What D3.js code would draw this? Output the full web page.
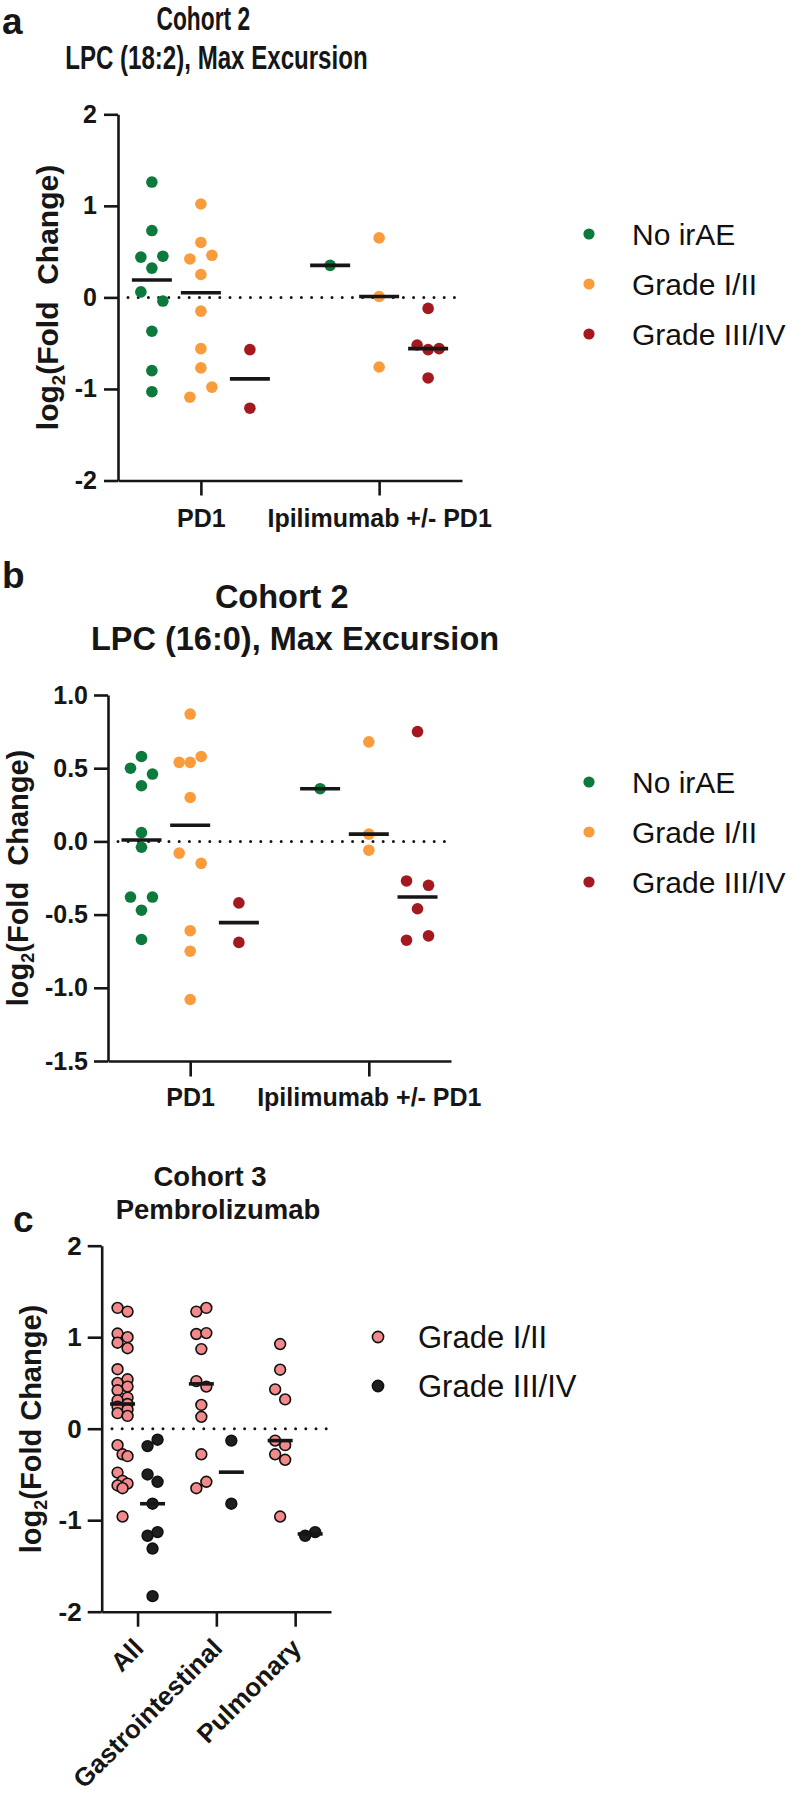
<!DOCTYPE html>
<html><head><meta charset="utf-8">
<script src="https://cdn.jsdelivr.net/npm/d3@7"></script>
<style>body{margin:0;background:#fff}</style>
</head><body>
<svg id="chart" width="793" height="1800"></svg>
<script>
// ---------------- DATA ----------------
const cohort2Groups = ["PD1", "Ipilimumab +/- PD1"];
const cohort2Series = ["No irAE", "Grade I/II", "Grade III/IV"];
const cohort2Colors = ["#0B7A3C", "#FA9C3C", "#A3191F"];

// Panel a: LPC (18:2)
const aTicks = [2, 1, 0, -1, -2];
const aNoIrAE_PD1  = [1.26, 0.73, 0.44, 0.45, 0.32, 0.06, -0.04, -0.37, -0.80, -1.03];
const aGrade12_PD1 = [1.02, 0.60, 0.42, 0.46, 0.25, -0.15, -0.56, -0.77, -1.09, -0.98];
const aGrade34_PD1 = [-0.57, -1.21];
const aNoIrAE_Ipi  = [0.35];
const aGrade12_Ipi = [0.65, 0.01, -0.76];
const aGrade34_Ipi = [-0.12, -0.52, -0.57, -0.56, -0.88];

// Panel b: LPC (16:0)
const bTicks = [1.0, 0.5, 0.0, -0.5, -1.0, -1.5];
const bNoIrAE_PD1  = [0.58, 0.50, 0.46, 0.38, 0.06, -0.04, -0.38, -0.38, -0.47, -0.67];
const bGrade12_PD1 = [0.87, 0.54, 0.54, 0.58, 0.30, -0.08, -0.15, -0.61, -0.75, -1.08];
const bGrade34_PD1 = [-0.42, -0.69];
const bNoIrAE_Ipi  = [0.36];
const bGrade12_Ipi = [0.68, 0.05, -0.06];
const bGrade34_Ipi = [0.75, -0.27, -0.30, -0.46, -0.675, -0.645];

// Panel c: Cohort 3, Pembrolizumab
const cCategories = ["All", "Gastrointestinal", "Pulmonary"];
const cSeries = ["Grade I/II", "Grade III/IV"];
const cColors = ["#F28A8C", "#1E1E1E"];
const cTicks = [2, 1, 0, -1, -2];
const cGrade12_All  = [1.32, 1.28, 1.04, 1.00, 0.94, 0.88, 0.65, 0.54, 0.50, 0.46, 0.42, 0.34, 0.31, 0.27, 0.24, 0.21, 0.17, 0.14, -0.18, -0.28, -0.30, -0.48, -0.57, -0.60, -0.62, -0.65, -0.96];
const cGrade34_All  = [-0.19, -0.12, -0.50, -0.58, -0.82, -1.17, -1.13, -1.31, -1.83];
const cGrade12_GI   = [1.28, 1.32, 1.035, 1.045, 0.87, 0.52, 0.46, 0.26, 0.13, -0.28, -0.65, -0.58];
const cGrade34_GI   = [-0.13, -0.82];
const cGrade12_Pulm = [0.925, 0.645, 0.43, 0.32, -0.13, -0.18, -0.28, -0.34, -0.96];
const cGrade34_Pulm = [-1.17, -1.13];

// ---------------- DRAWING ----------------
const FONT = "'Liberation Sans', Arial, Helvetica, sans-serif";
const INK = "#161616";
const svg = d3.select("#chart").attr("font-family", FONT);

// beeswarm: points whose vertical gaps chain below thr pixels form a row cluster
function swarm(values, y, d, thr, mode) {
  const off = new Array(values.length).fill(0);
  if (!values.length) return off;
  const idx = values.map((v, i) => i).sort((a, b) => values[b] - values[a]);
  const clusters = [];
  let cur = [idx[0]];
  for (let k = 1; k < idx.length; k++) {
    const gap = Math.abs(y(values[idx[k]]) - y(values[idx[k - 1]]));
    if (gap < thr) cur.push(idx[k]); else { clusters.push(cur); cur = [idx[k]]; }
  }
  clusters.push(cur);
  clusters.forEach(c => {
    c.sort((a, b) => a - b);
    const n = c.length;
    let slots;
    if (mode === "compact") {
      const pat = n === 1 ? [0] : (n % 2 ? [-1, 0, 1] : [-1, 1]);
      slots = c.map((_, i) => pat[i % pat.length]);
    } else if (n % 2) {
      slots = d3.range(n).map(i => i - (n - 1) / 2);
    } else {
      slots = d3.range(n).map(i => (i < n / 2 ? i - n / 2 : i - n / 2 + 1));
    }
    c.forEach((j, i) => { off[j] = slots[i] * d; });
  });
  return off;
}

function drawPanel(cfg) {
  const g = svg.append("g");
  const y = d3.scaleLinear().domain(cfg.yDomain).range(cfg.yRange);
  const x = d3.scalePoint().domain(cfg.groups).range([cfg.axisX, cfg.xEnd]).padding(cfg.groupPad);
  const sub = d3.scalePoint().domain(cfg.series).range(cfg.subRange);

  // dotted zero line
  g.append("line")
    .attr("x1", cfg.zeroX[0]).attr("x2", cfg.zeroX[1])
    .attr("y1", y(0)).attr("y2", y(0))
    .attr("stroke", INK).attr("stroke-width", 3)
    .attr("stroke-linecap", "round").attr("stroke-dasharray", "0,10.2");

  const medians = [];
  cfg.groups.forEach((grp, gi) => {
    cfg.series.forEach((s, si) => {
      const vals = cfg.data[gi][si];
      if (!vals || !vals.length) return;
      const cx = x(grp) + sub(s);
      const offs = swarm(vals, y, cfg.swarmD, cfg.swarmThr, cfg.swarmMode);
      g.append("g").selectAll("circle").data(vals).join("circle")
        .attr("cx", (v, i) => cx + offs[i])
        .attr("cy", v => y(v))
        .attr("r", cfg.r)
        .attr("fill", cfg.colors[si])
        .attr("stroke", cfg.stroke || "none")
        .attr("stroke-width", cfg.strokeW || 0);
      medians.push({ cx, m: d3.median(vals) });
    });
  });

  g.append("g").selectAll("line").data(medians).join("line")
    .attr("x1", d => d.cx - cfg.medW / 2).attr("x2", d => d.cx + cfg.medW / 2)
    .attr("y1", d => y(d.m)).attr("y2", d => y(d.m))
    .attr("stroke", INK).attr("stroke-width", 3.6);

  // axes
  const ya = d3.axisLeft(y).tickValues(cfg.ticks).tickFormat(cfg.fmt)
    .tickSize(cfg.tickLen).tickSizeOuter(0).tickPadding(cfg.tickPad);
  const yg = g.append("g").attr("transform", `translate(${cfg.axisX},0)`).call(ya);
  const xa = d3.axisBottom(x).tickSize(cfg.xTickLen).tickSizeOuter(0).tickPadding(cfg.xTickPad);
  const xg = g.append("g").attr("transform", `translate(0,${cfg.yRange[0]})`).call(xa);
  [yg, xg].forEach(ax => {
    ax.attr("font-family", FONT).attr("font-size", cfg.tickFont).attr("font-weight", "bold");
    ax.selectAll("path, line").attr("stroke", INK).attr("stroke-width", 2.6);
    ax.selectAll("text").attr("fill", INK);
  });
  if (cfg.rotateX) {
    xg.selectAll(".tick text")
      .attr("y", 0).attr("dy", 0).attr("x", 0)
      .attr("text-anchor", "end")
      .attr("transform", `translate(${cfg.rotAnchor[0]},${cfg.rotAnchor[1]}) rotate(-45)`);
  }

  // y label with subscript
  const lab = g.append("text")
    .attr("transform", `translate(${cfg.ylab[0]},${cfg.ylab[1]}) rotate(-90)`)
    .attr("text-anchor", "middle").attr("font-weight", "bold")
    .attr("font-size", cfg.ylabSize).attr("fill", INK)
    .style("white-space", "pre");
  lab.append("tspan").text("log");
  lab.append("tspan").text("2").attr("font-size", cfg.ylabSize * 0.62).attr("dy", cfg.ylabSize * 0.22);
  lab.append("tspan").text(cfg.ylabRest).attr("dy", -cfg.ylabSize * 0.22);

  // legend
  const lg = g.append("g");
  cfg.series.forEach((s, i) => {
    const ly = cfg.legend.y0 + i * cfg.legend.dy;
    lg.append("circle").attr("cx", cfg.legend.dotX).attr("cy", ly).attr("r", cfg.legend.r)
      .attr("fill", cfg.colors[i]).attr("stroke", cfg.stroke || "none").attr("stroke-width", cfg.strokeW || 0);
    lg.append("text").attr("x", cfg.legend.textX).attr("y", ly).attr("dy", "0.35em")
      .attr("font-size", cfg.legend.size).attr("fill", "#111").text(s);
  });
}

function title(txt, x, y, size, sx, weight) {
  svg.append("text")
    .attr("transform", `translate(${x},${y}) scale(${sx},1)`)
    .attr("text-anchor", "middle").attr("font-weight", weight || "bold")
    .attr("font-size", size).attr("fill", INK).text(txt);
}
function panelLetter(txt, x, y) {
  svg.append("text").attr("x", x).attr("y", y).attr("font-weight", "bold")
    .attr("font-size", 37).attr("fill", INK).text(txt);
}

// ---- Panel a ----
panelLetter("a", 2, 34);
title("Cohort 2", 203.3, 30, 33, 0.69);
title("LPC (18:2), Max Excursion", 216.4, 69, 33, 0.73);
drawPanel({
  groups: cohort2Groups, series: cohort2Series, colors: cohort2Colors,
  data: [[aNoIrAE_PD1, aGrade12_PD1, aGrade34_PD1], [aNoIrAE_Ipi, aGrade12_Ipi, aGrade34_Ipi]],
  yDomain: [-2, 2], yRange: [480.5, 114.3], axisX: 118, xEnd: 462, groupPad: 0.465,
  subRange: [-49, 49], zeroX: [128, 458], ticks: aTicks, fmt: v => String(v),
  tickLen: 14, tickPad: 7, xTickLen: 15, xTickPad: 13.5, tickFont: 25,
  r: 5.8, medW: 40, swarmD: 11, swarmThr: 10.5, swarmMode: "spread",
  ylab: [58, 297.5], ylabSize: 30, ylabRest: "(Fold  Change)",
  legend: { dotX: 589, textX: 632, y0: 234, dy: 50, r: 5.6, size: 30 }
});

// ---- Panel b ----
panelLetter("b", 2, 588);
title("Cohort 2", 281.7, 608.3, 32.5, 1);
title("LPC (16:0), Max Excursion", 295, 650, 32.5, 1);
drawPanel({
  groups: cohort2Groups, series: cohort2Series, colors: cohort2Colors,
  data: [[bNoIrAE_PD1, bGrade12_PD1, bGrade34_PD1], [bNoIrAE_Ipi, bGrade12_Ipi, bGrade34_Ipi]],
  yDomain: [-1.5, 1.0], yRange: [1061, 695], axisX: 108, xEnd: 451, groupPad: 0.46,
  subRange: [-48.7, 48.7], zeroX: [118, 448], ticks: bTicks, fmt: v => v.toFixed(1),
  tickLen: 14, tickPad: 6, xTickLen: 15.5, xTickPad: 12, tickFont: 25,
  r: 5.8, medW: 40, swarmD: 11, swarmThr: 10.5, swarmMode: "spread",
  ylab: [28, 878], ylabSize: 29, ylabRest: "(Fold  Change)",
  legend: { dotX: 589, textX: 632, y0: 782, dy: 50, r: 5.6, size: 30 }
});

// ---- Panel c ----
panelLetter("c", 13, 1232);
title("Cohort 3", 210, 1186, 27.5, 1);
title("Pembrolizumab", 218, 1219, 27.5, 1);
drawPanel({
  groups: cCategories, series: cSeries, colors: cColors,
  data: [[cGrade12_All, cGrade34_All], [cGrade12_GI, cGrade34_GI], [cGrade12_Pulm, cGrade34_Pulm]],
  yDomain: [-2, 2], yRange: [1611.7, 1245.7], axisX: 101.7, xEnd: 331, groupPad: 0.455,
  subRange: [-15, 15], zeroX: [112, 328], ticks: cTicks, fmt: v => String(v),
  tickLen: 14, tickPad: 6, xTickLen: 15, xTickPad: 10, tickFont: 26,
  rotateX: true, rotAnchor: [7, 38],
  r: 5.4, stroke: "#111", strokeW: 1.6, medW: 25, swarmD: 5, swarmThr: 10.5, swarmMode: "compact",
  ylab: [41, 1429], ylabSize: 29, ylabRest: "(Fold Change)",
  legend: { dotX: 378, textX: 418, y0: 1337, dy: 49, r: 5.6, size: 31 }
});
</script>
</body></html>
